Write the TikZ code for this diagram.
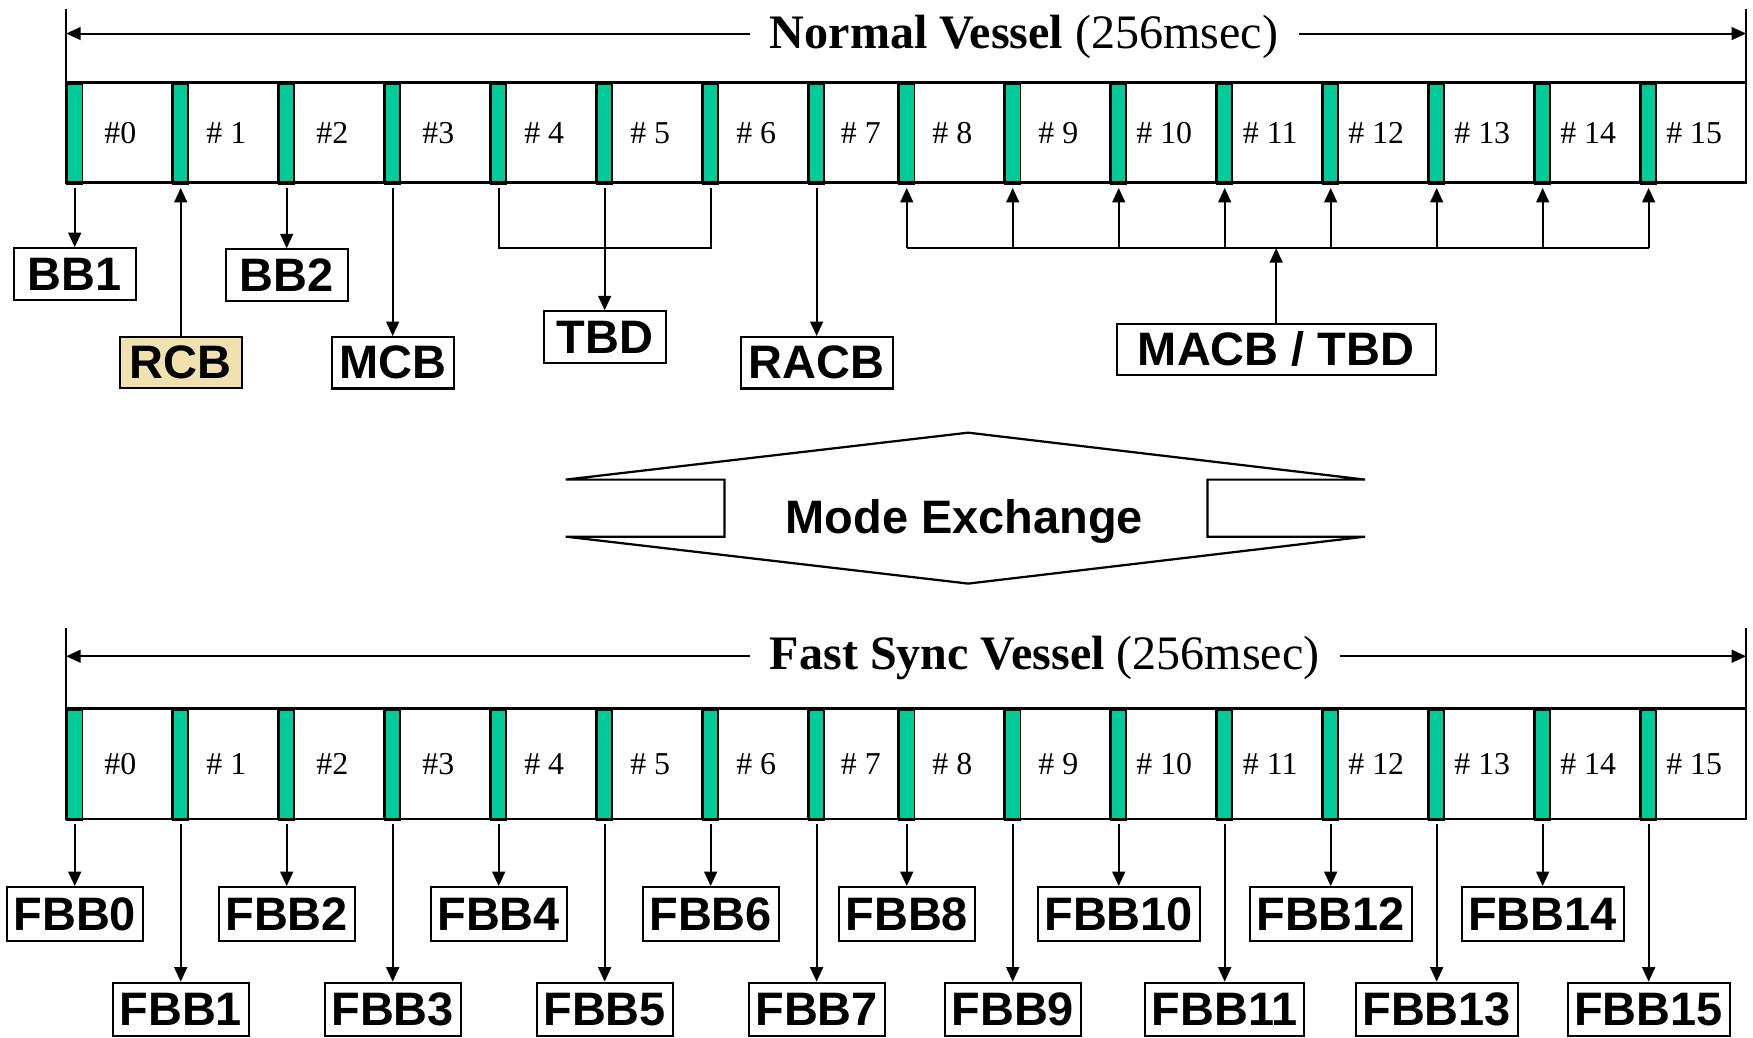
\documentclass[tikz,border=0pt]{standalone}
\usepackage{fontspec}
\setmainfont{Liberation Serif}
\setsansfont{Liberation Sans}
\usepackage{xcolor}
\definecolor{SlotGreen}{HTML}{00CC99}
\definecolor{RcbTan}{HTML}{F1E0B0}
\usetikzlibrary{arrows.meta}

\begin{document}
\begin{tikzpicture}[
    x=1pt, y=-1pt,
    lnk/.style={line width=1.8pt},
    arr/.style={lnk, -{Triangle[length=13pt, width=11.5pt]}},
    cell/.style={line width=1.6pt},
    slotmark/.style={draw, line width=1.6pt, fill=SlotGreen, minimum width=13.7pt, inner sep=0pt, anchor=north west},
    slotlab/.style={font=\fontsize{28.5}{28.5}\selectfont},
    vtitle/.style={font=\fontsize{43}{43}\selectfont, anchor=base, inner xsep=18pt},
    blk/.style={draw, line width=1.8pt, font=\sffamily\bfseries\fontsize{42}{42}\selectfont, minimum height=46pt, inner xsep=6pt, inner ysep=0pt},
]
% picture is laid out in the reference's pixels (x right, y down)
\useasboundingbox (0,0) rectangle (1568,928);

% Both vessels: 16 slots, slot #7 is shorter
\foreach \v/\yt/\yb in {n/74/163.5, f/634/732.6}{
  \pgfmathsetmacro\bh{\yb-\yt}
  \foreach \i/\lab in {0/\#0, 1/\# 1, 2/\#2, 3/\#3, 4/\# 4, 5/\# 5, 6/\# 6, 7/\# 7,
                       8/\# 8, 9/\# 9, 10/\# 10, 11/\# 11, 12/\# 12, 13/\# 13, 14/\# 14, 15/\# 15}{
    \pgfmathsetmacro\sx{\i<8 ? 59.2+94.8*\i : 803.4+94.8*(\i-8)}
    \pgfmathsetmacro\ex{\i==7 ? 803.4 : \sx+94.8}
    \pgfmathsetmacro\lx{\i==7 ? (\sx+13.7+\ex)/2 : (\sx+\ex)/2+1}
    \draw[cell] (\sx,\yt) rectangle (\ex,\yb);
    \node[slotmark, minimum height=\bh] (\v\i) at (\sx,\yt) {};
    \node[slotlab] (\v l\i) at (\lx,{(\yt+\yb)/2}) {\lab};
  }
  \draw[line width=2.4pt] (59.2,\yt) rectangle (1561.8,\yb);
}

% Normal vessel span
\coordinate (nL) at (59.2,30);
\coordinate (nR) at (1561.8,30);
\draw[lnk] (59.2,8) -- (59.2,74);
\draw[lnk] (1561.8,8) -- (1561.8,74);
\node[vtitle] (ntitle) at (916,43.5) {\textbf{Normal Vessel} (256msec)};
\draw[arr] (ntitle.west |- nL) -- (nL);
\draw[arr] (ntitle.east |- nR) -- (nR);

% Normal vessel blocks
\node[blk, minimum width=109pt] (bb1) at (n0.south |- 0,245) {BB1};
\node[blk, minimum width=109pt, fill=RcbTan] (rcb) at (n1.south |- 0,324) {RCB};
\node[blk, minimum width=109pt] (bb2) at (n2.south |- 0,246) {BB2};
\node[blk, minimum width=109pt] (mcb) at (n3.south |- 0,324.5) {MCB};
\node[blk, minimum width=109pt] (tbd) at (n5.south |- 0,301.5) {TBD};
\node[blk, minimum width=136pt] (racb) at (n7.south |- 0,324.5) {RACB};
\node[blk, minimum width=285pt] (macb) at (1141.5,312.5) {MACB / TBD};

\draw[arr, shorten <=3pt] (n0.south) -- (bb1.north);
\draw[arr, shorten >=3pt] (rcb.north) -- (n1.south);
\draw[arr, shorten <=3pt] (n2.south) -- (bb2.north);
\draw[arr, shorten <=3pt] (n3.south) -- (mcb.north);
\draw[lnk, shorten <=3pt, shorten >=3pt] (n4.south) -- (n4.south |- 0,222) -- (n6.south |- 0,222) -- (n6.south);
\draw[arr, shorten <=3pt] (n5.south) -- (tbd.north);
\draw[arr, shorten <=3pt] (n7.south) -- (racb.north);

% MACB feeds slots 8..15
\coordinate (hub) at (macb.north |- 0,222);
\draw[lnk] (n8.south |- hub) -- (n15.south |- hub);
\foreach \i in {8,...,15}
  \draw[arr, shorten >=3pt] (n\i.south |- hub) -- (n\i.south);
\draw[arr] (macb.north) -- (hub);

% Mode exchange
\draw[line width=2pt] (506,429) -- (866,387) -- (1221,429) -- (1080,429) -- (1080,480)
    -- (1221,480) -- (866,522) -- (506,480) -- (648,480) -- (648,429) -- cycle;
\node[font=\sffamily\bfseries\fontsize{42}{42}\selectfont, anchor=base] (mode) at (862.5,477) {Mode Exchange};

% Fast sync vessel span
\coordinate (fL) at (59.2,587);
\coordinate (fR) at (1561.8,587);
\draw[lnk] (59.2,562) -- (59.2,634);
\draw[lnk] (1561.8,562) -- (1561.8,634);
\node[vtitle] (ftitle) at (934.5,599) {\textbf{Fast Sync Vessel} (256msec)};
\draw[arr] (ftitle.west |- fL) -- (fL);
\draw[arr] (ftitle.east |- fR) -- (fR);

% Fast sync blocks, alternating rows
\foreach \i in {0,...,15}{
  \pgfmathsetmacro\fy{mod(\i,2)==0 ? 817.5 : 903}
  \node[blk, minimum height=48pt] (fbb\i) at (f\i.south |- 0,\fy) {FBB\i};
  \draw[arr, shorten <=3pt] (f\i.south) -- (fbb\i.north);
}

\end{tikzpicture}
\end{document}
